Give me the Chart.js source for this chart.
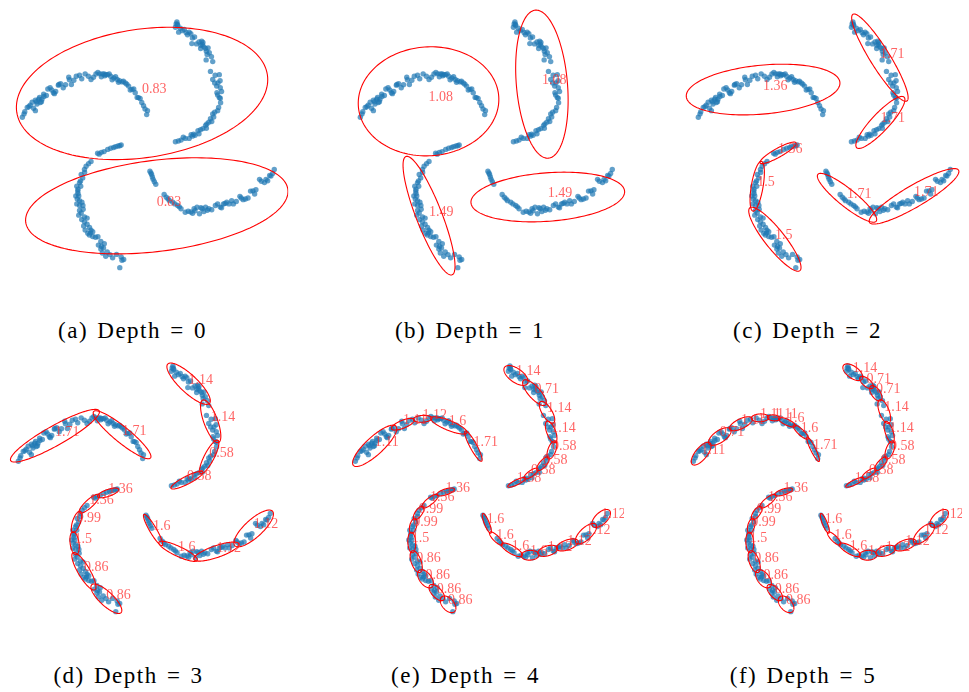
<!DOCTYPE html>
<html><head><meta charset="utf-8">
<script src="https://cdn.jsdelivr.net/npm/chart.js@4.4.0/dist/chart.umd.min.js"></script>
<style>
html,body{margin:0;padding:0;background:#fff;overflow:hidden;width:969px;height:692px;}
.panel{position:absolute;}
.cap{position:absolute;font-family:"Liberation Serif","Times New Roman",serif;font-size:23px;line-height:23px;color:#000;white-space:nowrap;letter-spacing:1.5px;word-spacing:2px;transform:translateX(-50%);}
</style></head><body>
<script>
// ---- data (pinwheel point cloud, same in every panel) ----
const armTopLeft = [[20,116.7],[21.7,113.3],[22.5,111],[25,106.7],[26.7,106],[28,104.5],[30,101.5],[31.5,107.5],[33.3,110],[33.3,99.3],[34.5,101],[36.7,98.3],[37.5,96.5],[38.3,101.7],[39.5,101],[35,103.3],[41.7,93.3],[40,98.3],[42,95.5],[44.5,94.5],[46,88],[48.3,86.7],[51.7,91.7],[50,89],[52.7,92.7],[54,90.5],[56.7,84],[57.3,83.3],[59,82.5],[61.7,86.7],[64,83.5],[67.3,76],[68,78.5],[70,83.3],[72.5,79],[75,75],[78.3,74],[80.5,77.5],[84,72.5],[87.3,75],[90,78.3],[92.5,76],[95,72.7],[97,71],[99,72.5],[100.5,75.5],[101.7,72.7],[103.5,72.5],[104,74.5],[105,73.3],[106.7,73.3],[108.5,72.5],[110,75],[111.5,78.5],[113.3,76.7],[115,75.5],[116.7,78.3],[118,81],[119,79.5],[121.7,80.7],[123,80],[125,81.7],[126.5,83],[128.3,85],[130,89],[131.7,88.3],[133.5,88],[135,91.7],[137,96.5],[138.3,96.7],[140,97.5],[141.7,101.7],[143.5,105],[145,108.3],[147.5,110],[146.7,114]];
const armTopRight = [[176.7,21.7],[176,25],[178.3,23.3],[177.5,19.5],[178,22],[179.3,30],[181,26],[183,28.5],[185,27.3],[187,30.5],[190,30],[191.7,31.7],[188.3,32.7],[193.3,36],[195.5,35],[192.7,41.7],[197.5,42],[200,40],[202,43.5],[202.7,39.3],[203.5,42.5],[204,40.5],[201.7,46.7],[205,45],[206.7,46.7],[207.5,49.5],[209.3,46],[210.5,51],[208.3,52.7],[207.3,58.3],[212.7,55],[214,60],[211.7,70],[220.7,73.3],[214,78.3],[216.5,74],[216,81.7],[221.5,79.5],[219.3,81.7],[218,85],[221.7,86.7],[223,90.5],[218.3,91.7],[219,94],[220.7,96.7],[221.7,97.3],[222,102],[220,106.7],[219,110],[216,111.7],[214,113.3],[215,116.5],[211.7,118.3],[213,121],[210,121.7],[208,123.5],[206.7,125],[207.5,128],[204,128.3],[201.7,129.3],[200,133.5],[199,130.5],[196,135],[194.5,134],[193.3,136],[192,134.5],[190,138.3],[186,138.3],[184,137],[181.7,140],[179,141],[176,141.7]];
const armBottomLeft = [[120.7,145],[119.3,145.7],[117.5,146],[115,146.7],[113,147.5],[110,148.3],[107,149.5],[103.3,151.7],[100.5,152.5],[98.3,154.3],[96.7,153.3],[90,161.7],[87.5,164],[85,166.7],[83.3,170],[83.5,173],[80,175],[81.5,178.5],[79.3,181.7],[78.3,183.3],[79.5,187],[75.5,187],[76.7,190],[76.5,192],[76.7,194.3],[77.5,197],[74.5,197],[76,200],[78.3,201.7],[80.7,203.3],[75.5,205],[78.3,206.7],[81.7,206.7],[82,210.5],[78.3,211.7],[80,214.3],[77.5,216.5],[83.3,218.3],[80.5,221],[86,219.5],[83.3,223.3],[86,225.7],[82.5,227.5],[84,231.7],[88.5,229],[86.7,235],[89.5,234.5],[90,231.7],[91.7,233.3],[94.5,239],[91.7,238.3],[88.3,236.7],[97,238.5],[100,243.3],[97.5,247],[103.5,245.5],[100.7,248.3],[102.7,250],[100,251],[101.5,255],[105,258.3],[106.5,254],[109.3,256.7],[112,260],[116,256.5],[120.7,259],[123.3,261.7],[121.5,262.5],[119.3,270]];
const armBottomRight = [[150,171.7],[151,173.5],[151.7,175],[152.5,177.5],[153.3,180],[154.5,182.5],[156,185],[164.5,195.5],[166.7,198.3],[168.5,200],[170,201.7],[173.3,203.3],[175.5,205],[178.3,206.7],[180,208],[181.7,210],[186,213.5],[189,212.5],[191.7,213.3],[193.5,214.5],[195,210],[196,212],[198,208.5],[200.5,215],[202,209],[203.3,210],[205,212.7],[206.7,208.3],[208.5,211.5],[210,210],[213,211],[216.7,206.7],[219,205],[221.7,208.3],[223,209],[225,205],[226.5,204.5],[228.3,203.3],[230.5,205],[233.3,201.7],[235,205],[238,202.5],[241.7,197.3],[243,199],[245,200.7],[247.3,200],[250,199],[252.5,192],[255,191.7],[256.7,195],[258,190.5],[261.7,180],[263.5,182],[266.7,183.3],[268.3,180],[270,181.5],[272,176],[273.3,176.7],[275,174],[276.7,170]];

// ---- ellipses per depth: [centerX, centerY, semiMajor, semiMinor, angleDeg, label] ----
const ellipsesDepth0 = [[142,92.5,129.1,65.4,-8.5,'0.83'],[157,207,134.6,46.4,-7.1,'0.83']];
const ellipsesDepth1 = [[89.5,100.5,71.7,55.5,-4,'1.08'],[205,83,75.7,26.0,85,'1.08'],[90,217,64.7,13.1,68.7,'1.49'],[211,198,78.5,24.7,-4.3,'1.49']];
const ellipsesDepth2 = [[86,88.5,78.6,24.9,-5.3,'1.36'],[205,56,52,10,58.1,'1.71'],[205.5,122,35.3,9,-46.9,'1.71'],[101.2,153,21,4.5,-29.3,'1.36'],[80,187,25.7,6,99.6,'1.5'],[98,241,40.9,10,51.5,'1.5'],[171.5,198.8,38.1,9,38.8,'1.71'],[239.8,197.3,52.6,11,-30.4,'1.71']];
const ellipsesDepth3 = [[57.3,90.7,51.7,10,-29.4,'1.71'],[125.7,89.7,37.4,8,39.2,'1.71'],[193.5,37.7,29.2,9,43.3,'1.14'],[216,76,23.1,7,69.8,'1.14'],[214.5,112.3,19.1,5,117.4,'0.58'],[191.8,136,18.2,4,152.8,'0.58'],[111.5,149,11.4,3.5,161,'1.36'],[92.3,160,13.6,4,137.5,'1.36'],[79.3,178.5,11.4,4,108.7,'0.99'],[77.3,200.3,11.8,4.5,81.9,'1.5'],[86.8,228.8,21.9,6,59.4,'0.86'],[109.7,256.8,20.6,7,43.3,'0.86'],[157.3,186.8,18.4,3.5,59.5,'1.6'],[182.8,208.5,21.6,5,25.2,'1.6'],[221.8,208.8,24.2,6,-19,'1.12'],[259.8,185.2,26,9,-42.4,'1.12']];
const ellipsesDepth4 = [[39.7,101,29.5,9,-42.7,'1.11'],[68.5,79,12.5,4,-22,'1.11'],[88.5,73.5,9.5,3.5,-4,'1.12'],[115.3,80.2,19.8,5,22.2,'1.6'],[140.3,101.3,17.5,3.5,61.5,'1.71'],
 [183.7,29.3,14.3,7,35.6,'1.14'],[202.5,46.8,16.8,6,48.1,'0.71'],[215.3,66.8,12.7,5,58.4,'1.14'],[219.5,86.8,11.6,4.5,68.8,'1.14'],[220.3,105.2,9.7,4,110,'0.58'],[211.2,119.3,8.8,3.5,131,'0.58'],[199,129.3,8.6,3,144.5,'0.58'],[184.5,138.2,10.2,2.5,154,'1.58'],
 [112,148,9.5,3,162,'1.36'],[96,157.5,10.3,3.5,141,'1.36'],[84.5,169.5,7.9,3.5,124.7,'0.99'],[79,182.5,7.8,3.5,105,'0.99'],[77.5,199.5,10.5,4,87,'1.5'],[82,219,11.7,5,70,'0.86'],[91.5,236.5,10.7,6,52.6,'0.86'],[103,250.5,10.3,5,47,'0.86'],[114.5,262.5,10,6,49,'0.86'],
 [154,180,10.8,2.5,68,'1.6'],[163.5,195.5,9.2,3,45,'1.6'],[179.5,207,12.1,4,29.7,'1.6'],[198,212.5,9,5,-3,'1.6'],[216,208,10.4,5,-16.7,'1.12'],[236,202,11.7,5,-20,'1.12'],[255,190.5,13.8,6,-43.5,'1.12'],[270.5,175,11.7,6,-43.3,'1.12']];
const ellipsesDepth5 = [[28,109,14.2,6,-50.7,'1.11'],[47,91.5,13.3,6,-34.3,'0.71'],[68.5,78.5,12.7,5,-25.6,'1.11'],[88,72.5,9,4,-3,'1.11'],[102,72.5,6.5,3,5,'1.11'],[115.5,77,9.4,3,25,'1.6'],[129.5,87,10.3,3,43,'1.6'],[142,104.5,13.9,2.5,64,'1.71'],
 [182.5,26,11.8,6,36.4,'1.14'],[196.5,36.5,8.5,4,40,'0.71'],[206,47.5,9,4.5,56,'0.71'],[214.5,66,12.8,5,69.4,'1.14'],[219.5,87,11.5,4,72,'1.14'],[220.3,105.2,9.7,4,110,'0.58'],[211.2,119.3,8.8,3.5,131,'0.58'],[199,129.3,8.6,3,144.5,'0.58'],[184.5,138.2,10.2,2.5,154,'1.58'],
 [112,148,9.5,3,162,'1.36'],[96,157.5,10.3,3.5,141,'1.36'],[84.5,169.5,7.9,3.5,124.7,'0.99'],[79,182.5,7.8,3.5,105,'0.99'],[77.5,199.5,10.5,4,87,'1.5'],[82,219,11.7,5,70,'0.86'],[91.5,236.5,10.7,6,52.6,'0.86'],[103,250.5,10.3,5,47,'0.86'],[114.5,262.5,10,6,49,'0.86'],
 [154,180,10.8,2.5,68,'1.6'],[163.5,195.5,9.2,3,45,'1.6'],[179.5,207,12.1,4,29.7,'1.6'],[198,212.5,9,5,-3,'1.6'],[216,208,10.4,5,-16.7,'1.12'],[236,202,11.7,5,-20,'1.12'],[255,190.5,13.8,6,-43.5,'1.12'],[270.5,175,11.7,6,-43.3,'1.12']];

const captions = ['(a) Depth = 0','(b) Depth = 1','(c) Depth = 2','(d) Depth = 3','(e) Depth = 4','(f) Depth = 5'];

// ---- layout ----
const W = 291, H = 290;
const layout = [
  {ell: ellipsesDepth0, left: 0,     top: 0,   capX: 132.5, capY: 318.5},
  {ell: ellipsesDepth1, left: 337.5, top: 0,   capX: 470,   capY: 318.5},
  {ell: ellipsesDepth2, left: 675.5, top: 0,   capX: 807.5, capY: 318.5},
  {ell: ellipsesDepth3, left: -4,    top: 344, capX: 128.5, capY: 663.5},
  {ell: ellipsesDepth4, left: 333,   top: 344, capX: 465.5, capY: 663.5},
  {ell: ellipsesDepth5, left: 671,   top: 344, capX: 803,   capY: 663.5}
];

const toXY = arr => arr.map(p => ({x: p[0], y: p[1]}));
const allArms = [armTopLeft, armTopRight, armBottomLeft, armBottomRight];
const serif = '"Liberation Serif", "Times New Roman", serif';

function ellipsePlugin(items){
  return {
    id: 'ellipses',
    afterDatasetsDraw(chart){
      const ctx = chart.ctx, xs = chart.scales.x, ys = chart.scales.y, ca = chart.chartArea;
      ctx.save();
      ctx.beginPath(); ctx.rect(ca.left, ca.top, ca.right - ca.left, ca.bottom - ca.top); ctx.clip();
      ctx.strokeStyle = '#ff0000'; ctx.lineWidth = 1.1;
      items.forEach(e => {
        const [cx, cy, a, b, deg] = e, ph = deg * Math.PI / 180;
        const c = Math.cos(ph), s = Math.sin(ph);
        ctx.beginPath();
        for (let i = 0; i <= 160; i++) {
          const t = i / 160 * 2 * Math.PI;
          const ux = a * Math.cos(t), uy = b * Math.sin(t);
          const px = xs.getPixelForValue(cx + ux * c - uy * s);
          const py = ys.getPixelForValue(cy + ux * s + uy * c);
          if (i === 0) ctx.moveTo(px, py); else ctx.lineTo(px, py);
        }
        ctx.closePath(); ctx.stroke();
      });
      ctx.restore();
      ctx.save();
      ctx.fillStyle = 'rgba(255,40,40,0.72)';
      ctx.font = '14px ' + serif;
      ctx.textAlign = 'left'; ctx.textBaseline = 'alphabetic';
      items.forEach(e => {
        ctx.fillText(e[5], xs.getPixelForValue(e[0]), ys.getPixelForValue(e[1]));
      });
      ctx.restore();
    }
  };
}

layout.forEach((p, i) => {
  const cv = document.createElement('canvas');
  cv.width = W; cv.height = H; cv.className = 'panel';
  cv.style.left = p.left + 'px'; cv.style.top = p.top + 'px';
  cv.style.width = W + 'px'; cv.style.height = H + 'px';
  document.body.appendChild(cv);
  new Chart(cv.getContext('2d'), {
    type: 'scatter',
    data: {datasets: allArms.map(arm => ({
      data: toXY(arm), pointRadius: 2.7, pointHoverRadius: 2.7, borderWidth: 0,
      backgroundColor: 'rgba(31,119,180,0.7)', clip: false
    }))},
    options: {
      responsive: false, animation: false, devicePixelRatio: 1,
      layout: {padding: 0},
      plugins: {legend: {display: false}, tooltip: {enabled: false}},
      scales: {
        x: {type: 'linear', min: 0, max: W, display: false},
        y: {type: 'linear', min: 0, max: H, reverse: true, display: false}
      }
    },
    plugins: [ellipsePlugin(p.ell)]
  });
  const cap = document.createElement('div');
  cap.className = 'cap'; cap.textContent = captions[i];
  cap.style.left = p.capX + 'px'; cap.style.top = p.capY + 'px';
  document.body.appendChild(cap);
});
</script>
</body></html>
